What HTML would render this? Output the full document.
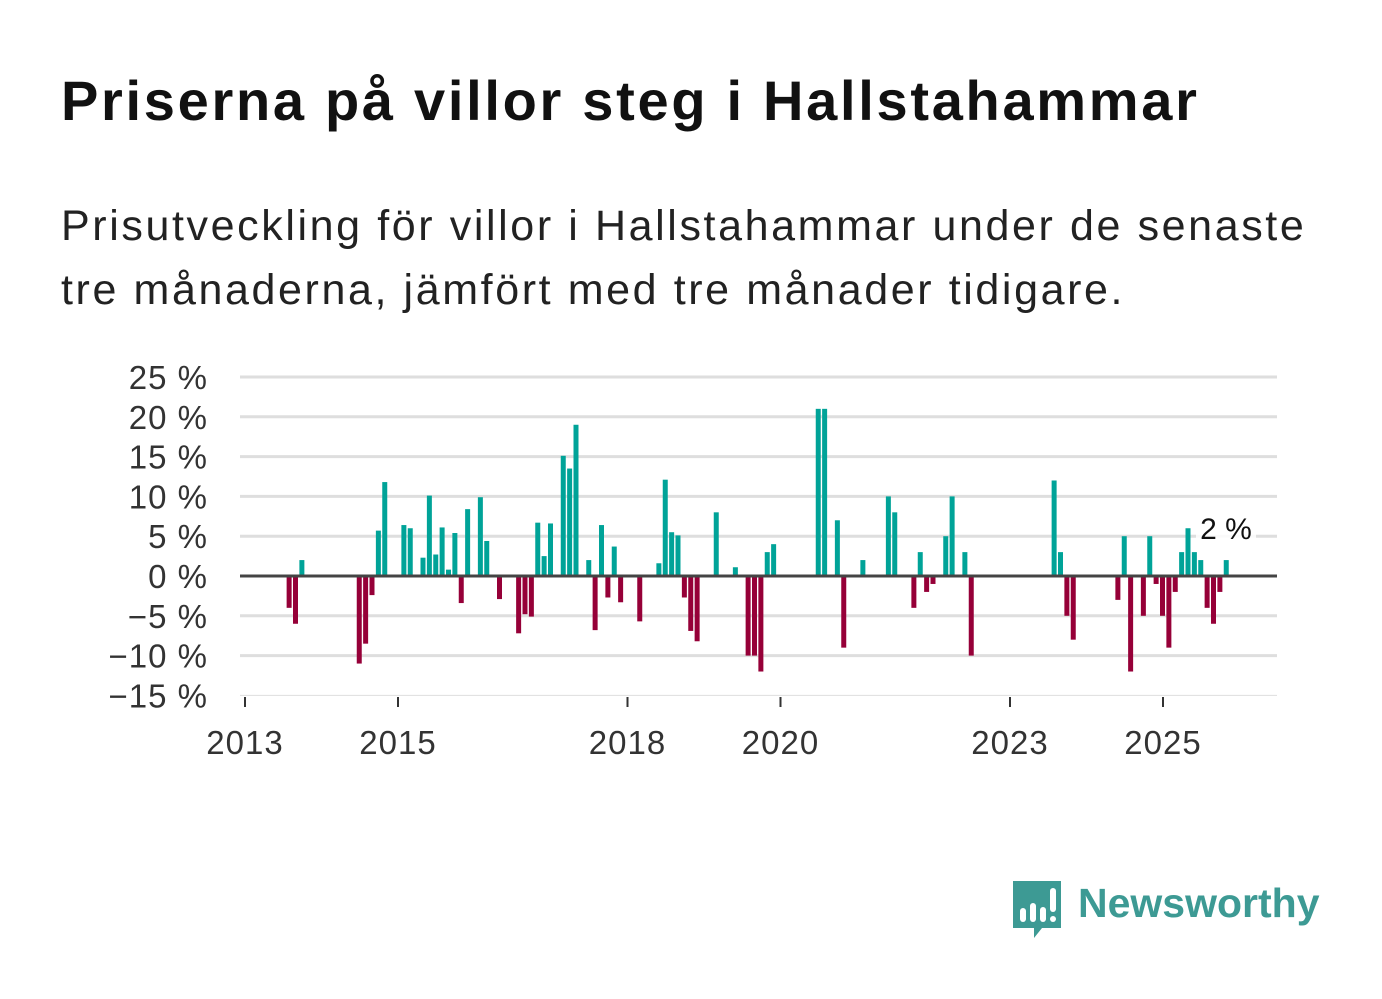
<!DOCTYPE html>
<html><head><meta charset="utf-8">
<style>
body{margin:0;background:#fff;width:1382px;height:999px;overflow:hidden;font-family:"Liberation Sans",sans-serif;}
.t{position:absolute;white-space:nowrap;color:#111;}
</style></head>
<body>
<div class="t" style="left:61px;top:68px;font-size:56px;letter-spacing:2.7px;font-weight:bold;">Priserna på villor steg i Hallstahammar</div>
<div class="t" style="left:61px;top:194px;font-size:43px;letter-spacing:2.6px;line-height:64px;color:#222;">Prisutveckling för villor i Hallstahammar under de senaste<br>tre månaderna, jämfört med tre månader tidigare.</div>
<svg id="chart" width="1382" height="999" style="position:absolute;left:0;top:0;"></svg>
<div style="position:absolute;left:1010px;top:878px;">
<svg width="56" height="64"><path d="M3 3 H51 V50 H32 L24 60 V50 H3 Z" fill="#3d9a94"/><rect x="10" y="30" width="6" height="14" rx="3" fill="#fff"/><rect x="20" y="25" width="6" height="19" rx="3" fill="#fff"/><rect x="30" y="29" width="6" height="15" rx="3" fill="#fff"/><rect x="40" y="10" width="6" height="24" rx="3" fill="#fff"/><circle cx="43" cy="41" r="3" fill="#fff"/></svg>
<div class="t" style="left:68px;top:2px;font-size:41px;font-weight:bold;color:#3d9a94;">Newsworthy</div>
</div>
<script>
const months=[7,8,9,18,19,20,21,22,25,26,28,29,30,31,32,33,34,35,37,38,40,43,44,45,46,47,48,50,51,52,54,55,56,57,58,59,62,65,66,67,68,69,70,71,74,77,79,80,81,82,83,90,91,93,94,97,101,102,105,106,107,108,110,111,113,114,127,128,129,130,137,138,139,141,142,143,144,145,146,147,148,149,150,151,152,153,154];
const values=[-4,-6,2,-11,-8.5,-2.4,5.7,11.8,6.4,6,2.3,10.1,2.7,6.1,0.8,5.4,-3.4,8.4,9.9,4.4,-2.9,-7.2,-4.8,-5.1,6.7,2.5,6.6,15.1,13.5,19,2,-6.8,6.4,-2.7,3.7,-3.3,-5.7,1.6,12.1,5.5,5.1,-2.7,-6.9,-8.2,8,1.1,-10,-10,-12,3,4,21,21,7,-9,2,10,8,-4,3,-2,-1,5,10,3,-10,12,3,-5,-8,-3,5,-12,-5,5,-1,-5,-9,-2,3,6,3,2,-4,-6,-2,2];
const yTicks=[25,20,15,10,5,0,-5,-10,-15];
const yLabels=["25 %","20 %","15 %","10 %","5 %","0 %","−5 %","−10 %","−15 %"];
const xYears=[2013,2015,2018,2020,2023,2025];
const NS="http://www.w3.org/2000/svg";
const svg=document.getElementById('chart');
const y=v=>576-v*7.96;
const x=m=>245+m*6.375-0.5;
const xy=yr=>245+(yr-2013)*76.5;
function mk(t,a){const e=document.createElementNS(NS,t);for(const k in a)e.setAttribute(k,a[k]);svg.appendChild(e);return e;}
yTicks.forEach((v,i)=>{
 if(v!==0){const g=mk('line',{x1:240,x2:1277,y1:y(v),y2:y(v),stroke:'#dedede','stroke-width':v===-15?1:3});
 
 }
 const t=mk('text',{x:208,y:y(v)+12,'text-anchor':'end','font-size':33,'letter-spacing':1,fill:'#333','font-family':'Liberation Sans, sans-serif'});
 t.textContent=yLabels[i];
 
 
});
months.forEach((m,i)=>{
 const v=values[i];
 const r=mk('rect',{x:x(m)-2.5,width:5,y:v>=0?y(v):576,height:Math.abs(v)*7.96,fill:v>=0?'#00a398':'#960038'});
 
 
});
const z=mk('line',{x1:240,x2:1277,y1:576,y2:576,stroke:'#444','stroke-width':3});


xYears.forEach(yr=>{
 const tk=mk('line',{x1:xy(yr),x2:xy(yr),y1:697,y2:707,stroke:'#333','stroke-width':2});
 
 
 const t=mk('text',{x:xy(yr),y:754,'text-anchor':'middle','font-size':33,'letter-spacing':1,fill:'#333','font-family':'Liberation Sans, sans-serif'});
 t.textContent=yr;
 
 
});
const lb=mk('rect',{x:1196,y:511,width:60,height:34,fill:'#fff','fill-opacity':0.85});


const lt=mk('text',{x:1226,y:539,'text-anchor':'middle','font-size':30,fill:'#111','font-family':'Liberation Sans, sans-serif'});
lt.textContent=values[values.length-1]+' %';


</script>
</body></html>
